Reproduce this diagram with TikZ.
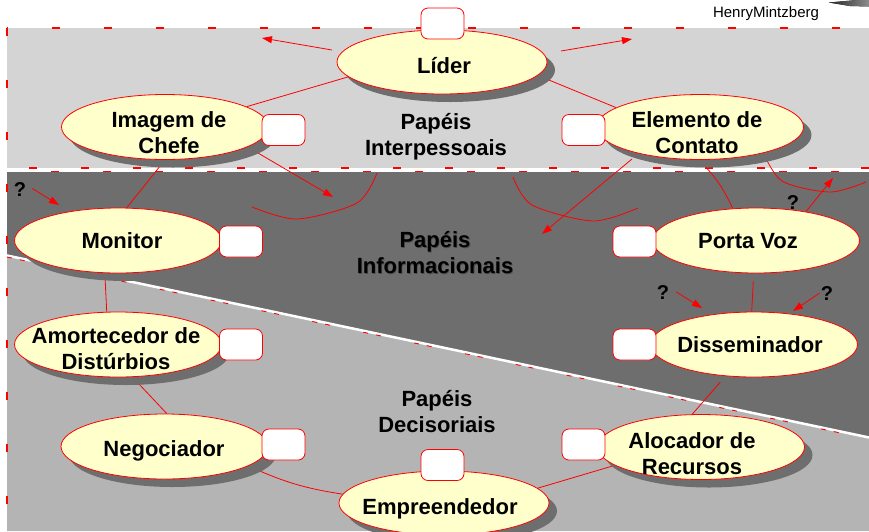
\documentclass[tikz,border=0pt]{standalone}
\usepackage{fontspec}
\setmainfont{Liberation Sans}
\usetikzlibrary{shapes.geometric,shadows,arrows.meta,calc}
\definecolor{bandlight}{HTML}{D4D4D4}
\definecolor{banddark}{HTML}{6E6E6E}
\definecolor{bandmid}{HTML}{B4B4B4}
\definecolor{roleyellow}{HTML}{FFFFCC}
\definecolor{rred}{HTML}{FF0000}
\pgfdeclarelayer{bglayer}
\pgfdeclarelayer{linelayer}
\pgfsetlayers{bglayer,linelayer,main}
\tikzset{
  role/.style={ellipse, draw=rred, line width=0.8pt, fill=roleyellow,
    minimum width=207pt, minimum height=65pt, inner sep=0pt,
    drop shadow={shadow xshift=8pt, shadow yshift=-8pt, fill=banddark, opacity=1}},
  rolelabel/.style={font=\fontsize{22}{26}\selectfont\bfseries, align=center, inner sep=0pt},
  oneline/.style={rolelabel, text height=16pt, text depth=0pt},
  tag/.style={rectangle, rounded corners=7pt, draw=rred, line width=0.8pt, fill=white,
    minimum width=43pt, minimum height=31pt, inner sep=0pt},
  link/.style={draw=rred, line width=0.8pt},
  pointer/.style={draw=rred, line width=0.8pt, -{Triangle[length=10pt,width=7pt]}},
  border/.style={draw=rred, line width=1.5pt, dash pattern=on 8pt off 44pt},
  groupname/.style={font=\fontsize{22}{26}\selectfont\bfseries, align=center, inner sep=0pt},
  query/.style={font=\fontsize{20}{24}\selectfont\bfseries, inner sep=0pt, text height=15pt, text depth=0pt},
}
\begin{document}
\begin{tikzpicture}[x=1pt,y=-1pt]
\useasboundingbox (0,0) rectangle (869,531);
% ---------- background bands ----------
\begin{pgfonlayer}{bglayer}
\fill[bandlight] (7,28) rectangle (869,168);
\fill[banddark] (7,172) -- (869,172) -- (869,437) -- (7,255) -- cycle;
\fill[bandmid] (7,255) -- (869,437) -- (869,531) -- (7,531) -- cycle;
\draw[white, line width=2.5pt] (7,255.5) -- (869,437.5);
\draw[border, dash phase=7pt] (7,28) -- (869,28);
\draw[border] (7,28) -- (7,531);
\draw[border, dash phase=30pt] (7,168) -- (869,168);
\draw[border, line width=1.2pt, dash phase=8pt] (7,171.5) -- (869,171.5);
\draw[draw=rred, line width=0.9pt, dash pattern=on 5pt off 8pt on 5pt off 34pt] (7,257) -- (869,439);
% signature swoosh
\fill[left color=black!85, right color=black!45] (829,2.5) -- (869,-1) -- (869,6.5) -- (850,6) -- cycle;
\end{pgfonlayer}
% ---------- roles ----------
\node[role, minimum width=210pt, minimum height=64pt] (lid) at (442,62) {};
\node[role] (ima) at (165,127) {};
\node[role] (ele) at (700,127) {};
\node[role] (mon) at (118,240.5) {};
\node[role] (por) at (756,240.5) {};
\node[role] (amo) at (118,344.5) {};
\node[role] (dis) at (754,344.5) {};
\node[role] (neg) at (164.5,446.5) {};
\node[role] (alo) at (701,447) {};
\node[role, minimum width=210pt, minimum height=64pt] (emp) at (444,503) {};
% tags
\node[tag] (tlid) at (442.5,23.5) {};
\node[tag] (tima) at (283.5,130) {};
\node[tag] (tele) at (583.5,130) {};
\node[tag] (tmon) at (241,241.5) {};
\node[tag] (tpor) at (634.5,241.5) {};
\node[tag] (tamo) at (241,344.5) {};
\node[tag] (tdis) at (634.5,344.5) {};
\node[tag] (tneg) at (283.5,444.5) {};
\node[tag] (talo) at (583.5,444.5) {};
\node[tag] (temp) at (442.5,465) {};
% labels
\node[oneline] (llid) at (444,65) {Líder};
\node[rolelabel] (lima) at (169,133) {Imagem de\\Chefe};
\node[rolelabel] (lele) at (697,133) {Elemento de\\Contato};
\node[oneline] (lmon) at (122,240.5) {Monitor};
\node[oneline] (lpor) at (748,240) {Porta Voz};
\node[rolelabel] (lamo) at (116,348.5) {Amortecedor de\\Distúrbios};
\node[oneline] (ldis) at (750,344) {Disseminador};
\node[oneline] (lneg) at (164,448) {Negociador};
\node[rolelabel] (lalo) at (692,453.5) {Alocador de\\Recursos};
\node[oneline] (lemp) at (440,506) {Empreendedor};
% group names
\node[groupname] (ginter) at (436,136.5) {Papéis\\Interpessoais};
\node[groupname, text=black!70] at (435.8,253.8) {Papéis\\Informacionais};
\node[groupname] (ginfo) at (435,253) {Papéis\\Informacionais};
\node[groupname] (gdeci) at (437,412) {Papéis\\Decisoriais};
% author
\node[font=\fontsize{15}{18}\selectfont, inner sep=0pt, text height=10.7pt, text depth=0pt] (author) at (766,12) {HenryMintzberg};
% question marks
\node[query] (q1) at (20,188.5) {?};
\node[query] (q2) at (793,202) {?};
\node[query] (q3) at (663,292) {?};
\node[query] (q4) at (827,293) {?};
% free ends
\coordinate (a1s) at (332,50);  \coordinate (a1e) at (262,38);
\coordinate (a2s) at (561,51);  \coordinate (a2e) at (632,39);
\coordinate (a3s) at (258,153); \coordinate (a3e) at (333,197);
\coordinate (a4s) at (632,159); \coordinate (a4e) at (542,234);
\coordinate (a5e) at (59,205);
\coordinate (a6e) at (833,178);
\coordinate (a7e) at (702,308);
\coordinate (a8e) at (793,311);
% ---------- connectors ----------
\begin{pgfonlayer}{linelayer}
\draw[link] (lid.189) -- (ima.14);
\draw[link] (lid.352) -- (ele.167);
\draw[link] (ima.270) -- (mon.75);
\draw[link] (ele.268) to[bend left=10] (por.126);
\draw[link] (mon.248) -- (amo.109);
\draw[link] (por.266) -- (dis.94);
\draw[link] (amo.294) -- (neg.86);
\draw[link] (dis.228) -- (alo.105);
\draw[link] (neg.347) to[bend right=8] (emp.175);
\draw[link] (alo.192) -- (emp.9);
% open arcs
\draw[link] plot[smooth, tension=0.5] coordinates {(252,207) (297,219) (357,203) (377,173)};
\draw[link] plot[smooth, tension=0.5] coordinates {(513,177) (532,205) (593,221) (638,208)};
\draw[link] plot[smooth, tension=0.5] coordinates {(762,150) (782,181) (830,192) (866,182)};
% arrows
\draw[pointer] (a1s) -- (a1e);
\draw[pointer] (a2s) -- (a2e);
\draw[pointer] (a3s) -- (a3e);
\draw[pointer] (a4s) -- (a4e);
\draw[pointer] ($(q1.east)+(6,0)$) -- (a5e);
\draw[pointer] (por.30) -- (a6e);
\draw[pointer] ($(q3.east)+(7,0)$) -- (a7e);
\draw[pointer] ($(q4.west)+(-1,0)$) -- (a8e);
\end{pgfonlayer}
\end{tikzpicture}
\end{document}
